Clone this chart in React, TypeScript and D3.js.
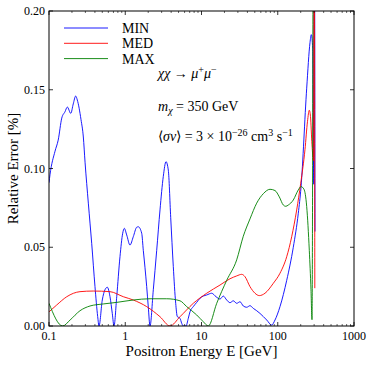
import React from "react";
import * as d3 from "d3";

// ---------- data ----------
const E_MIN = [0.1, 0.103, 0.12, 0.132, 0.147, 0.162, 0.174, 0.193, 0.208, 0.224, 0.235, 0.263, 0.282, 0.297, 0.328, 0.363, 0.401, 0.435, 0.453, 0.5, 0.542, 0.582, 0.631, 0.676, 0.712, 0.773, 0.853, 0.926, 0.972, 1.045, 1.154, 1.275, 1.413, 1.483, 1.643, 1.725, 1.816, 1.911, 2.006, 2.112, 2.333, 2.585, 2.856, 3.155, 3.422, 3.669, 3.945, 4.268, 4.587, 4.814, 5.224, 5.499, 5.771, 6.262, 6.713, 7.063, 7.805, 8.65, 9.556, 10.56, 11.7, 13.61, 15.49, 17.48, 19.31, 21.41, 23.65, 26.12, 28.94, 31.99, 35.33, 39.15, 43.25, 47.78, 52.96, 58.48, 71.66, 83.27, 92.05, 107.0, 131.1, 159.9, 186.0, 201.8, 239.7, 264.9, 275.4, 287.3, 297.0, 301.5, 307.9];
const V_MIN = [0.091, 0.096, 0.111, 0.118, 0.132, 0.136, 0.139, 0.135, 0.141, 0.146, 0.1435, 0.131, 0.12, 0.104, 0.078, 0.0525, 0.025, 0.006, 0.0, 0.0165, 0.023, 0.0246, 0.0186, 0.008, 0.0, 0.0186, 0.044, 0.0589, 0.062, 0.0578, 0.0514, 0.0567, 0.0627, 0.063, 0.0589, 0.048, 0.037, 0.025, 0.012, 0.0, 0.023, 0.048, 0.0737, 0.095, 0.1043, 0.099, 0.069, 0.0377, 0.0144, 0.006, 0.0049, 0.0017, 0.0, 0.0, 0.0049, 0.009, 0.0123, 0.015, 0.0176, 0.019, 0.0197, 0.0208, 0.0186, 0.0171, 0.019, 0.0165, 0.0148, 0.016, 0.0144, 0.0154, 0.0127, 0.0119, 0.0129, 0.0112, 0.0097, 0.008, 0.0038, 0.0006, 0.0038, 0.0123, 0.029, 0.05, 0.0716, 0.088, 0.151, 0.18, 0.185, 0.176, 0.09, 0.3, 0.06];

const E_MED = [0.1, 0.126, 0.171, 0.255, 0.381, 0.631, 0.943, 1.275, 1.911, 2.856, 3.864, 5.224, 7.805, 11.7, 17.48, 23.65, 28.94, 33.67, 37.2, 43.25, 50.3, 57.28, 68.06, 87.43, 107.0, 131.1, 152.4, 177.2, 200.0, 227.6, 245.6, 259.3, 268.8, 281.3, 294.3, 300.6, 306.2];
const V_MED = [0.009, 0.0133, 0.0186, 0.0218, 0.0222, 0.0218, 0.0186, 0.0165, 0.0123, 0.0059, 0.0, 0.0059, 0.0144, 0.0208, 0.026, 0.03, 0.0318, 0.0328, 0.0313, 0.025, 0.0208, 0.0193, 0.0208, 0.0271, 0.0335, 0.044, 0.0567, 0.0737, 0.0906, 0.112, 0.13, 0.137, 0.133, 0.115, 0.105, 0.3, 0.024];

const E_MAX = [0.1, 0.151, 0.189, 0.255, 0.345, 0.515, 0.773, 1.275, 2.112, 3.496, 5.224, 6.397, 8.65, 10.56, 12.28, 15.83, 21.41, 28.94, 35.33, 43.25, 52.96, 64.64, 79.15, 92.05, 104.8, 118.3, 127.5, 137.5, 159.9, 186.0, 201.8, 220.9, 239.7, 259.3, 272.9, 281.3, 291.6];
const V_MAX = [0.0144, 0.0, 0.0038, 0.0097, 0.0127, 0.014, 0.015, 0.0165, 0.0173, 0.0173, 0.016, 0.0123, 0.007, 0.0027, 0.0, 0.0144, 0.029, 0.042, 0.057, 0.068, 0.078, 0.084, 0.0868, 0.086, 0.082, 0.0768, 0.076, 0.0768, 0.08, 0.0864, 0.0885, 0.0868, 0.0758, 0.048, 0.023, 0.004, 0.3];

const SERIES_NAMES = ["MIN", "MED", "MAX"];
const SERIES_COLORS = ["#0000ff", "#ff0000", "#008000"];

const X_TICKS = [0.1, 1, 10, 100, 1000];
const X_TICK_LABELS = ["0.1", "1", "10", "100", "1000"];
const Y_TICKS = [0, 0.05, 0.1, 0.15, 0.2];
const Y_TICK_LABELS = ["0.00", "0.05", "0.10", "0.15", "0.20"];

// ---------- layout ----------
const W = 374, H = 365;
const L = 49, T = 11, R = 354, B = 326;
const FONT = "'Liberation Serif', 'Times New Roman', serif";

export default function App() {
  const x = d3.scaleLog().domain([0.1, 1000]).range([L, R]);
  const y = d3.scaleLinear().domain([0, 0.2]).range([B, T]);

  const series = [
    { e: E_MIN, v: V_MIN },
    { e: E_MED, v: V_MED },
    { e: E_MAX, v: V_MAX },
  ];
  const line = d3
    .line<[number, number]>()
    .x((d) => x(d[0]))
    .y((d) => y(d[1]))
    .curve(d3.curveMonotoneX);

  const minor: number[] = [];
  for (let dec = 0.1; dec < 1000; dec *= 10) {
    for (let k = 2; k <= 9; k++) minor.push(+(dec * k).toPrecision(3));
  }

  return (
    <svg width={W} height={H} style={{ position: "absolute", left: 0, top: 0, background: "#fff" }} fontFamily={FONT}>
      <defs>
        <clipPath id="plotclip">
          <rect x={L} y={T} width={R - L} height={B - T} />
        </clipPath>
      </defs>
      <rect x={0} y={0} width={W} height={H} fill="#fff" />

      <g clipPath="url(#plotclip)">
        {series.map((s, i) => (
          <path
            key={i}
            d={line(s.e.map((e, j) => [e, s.v[j]] as [number, number])) || ""}
            fill="none"
            stroke={SERIES_COLORS[i]}
            strokeWidth={0.9}
            strokeLinejoin="round"
          />
        ))}
      </g>

      {/* frame */}
      <rect x={L} y={T} width={R - L} height={B - T} fill="none" stroke="#000" strokeWidth={1} />

      {/* x ticks */}
      {X_TICKS.map((t, i) => (
        <g key={"xt" + i}>
          <line x1={x(t)} x2={x(t)} y1={B} y2={B - 4} stroke="#000" strokeWidth={0.8} />
          <line x1={x(t)} x2={x(t)} y1={T} y2={T + 4} stroke="#000" strokeWidth={0.8} />
          <text x={x(t)} y={B + 14} textAnchor="middle" fontSize={12}>
            {X_TICK_LABELS[i]}
          </text>
        </g>
      ))}
      {minor.map((t, i) => (
        <g key={"xm" + i}>
          <line x1={x(t)} x2={x(t)} y1={B} y2={B - 2} stroke="#000" strokeWidth={0.6} />
          <line x1={x(t)} x2={x(t)} y1={T} y2={T + 2} stroke="#000" strokeWidth={0.6} />
        </g>
      ))}

      {/* y ticks */}
      {Y_TICKS.map((t, i) => (
        <g key={"yt" + i}>
          <line x1={L} x2={L + 4} y1={y(t)} y2={y(t)} stroke="#000" strokeWidth={0.8} />
          <line x1={R} x2={R - 4} y1={y(t)} y2={y(t)} stroke="#000" strokeWidth={0.8} />
          <text x={L - 4} y={y(t) + 4} textAnchor="end" fontSize={12}>
            {Y_TICK_LABELS[i]}
          </text>
        </g>
      ))}

      {/* axis labels */}
      <text x={(L + R) / 2} y={B + 30} textAnchor="middle" fontSize={15}>
        Positron Energy E [GeV]
      </text>
      <text transform={`translate(18,${(T + B) / 2}) rotate(-90)`} textAnchor="middle" fontSize={15}>
        Relative Error [%]
      </text>

      {/* legend */}
      {SERIES_NAMES.map((n, i) => (
        <g key={"lg" + i}>
          <line x1={64} x2={108} y1={28 + i * 15.3} y2={28 + i * 15.3} stroke={SERIES_COLORS[i]} strokeWidth={0.9} />
          <text x={122} y={33 + i * 15.3} fontSize={14}>
            {n}
          </text>
        </g>
      ))}

      {/* annotations */}
      <text x={158} y={78} fontSize={14}>
        <tspan fontStyle="italic">χχ</tspan>
        <tspan> → </tspan>
        <tspan fontStyle="italic">μ</tspan>
        <tspan dy={-5} fontSize={10}>+</tspan>
        <tspan dy={5} fontStyle="italic">μ</tspan>
        <tspan dy={-5} fontSize={10}>−</tspan>
      </text>
      <text x={158} y={111} fontSize={14}>
        <tspan fontStyle="italic">m</tspan>
        <tspan dy={3} fontSize={10} fontStyle="italic">χ</tspan>
        <tspan dy={-3}> = 350 GeV</tspan>
      </text>
      <text x={158} y={141} fontSize={14}>
        <tspan>⟨</tspan>
        <tspan fontStyle="italic">σv</tspan>
        <tspan>⟩ = 3 × 10</tspan>
        <tspan dy={-5} fontSize={10}>−26</tspan>
        <tspan dy={5}> cm</tspan>
        <tspan dy={-5} fontSize={10}>3</tspan>
        <tspan dy={5}> s</tspan>
        <tspan dy={-5} fontSize={10}>−1</tspan>
      </text>
    </svg>
  );
}
